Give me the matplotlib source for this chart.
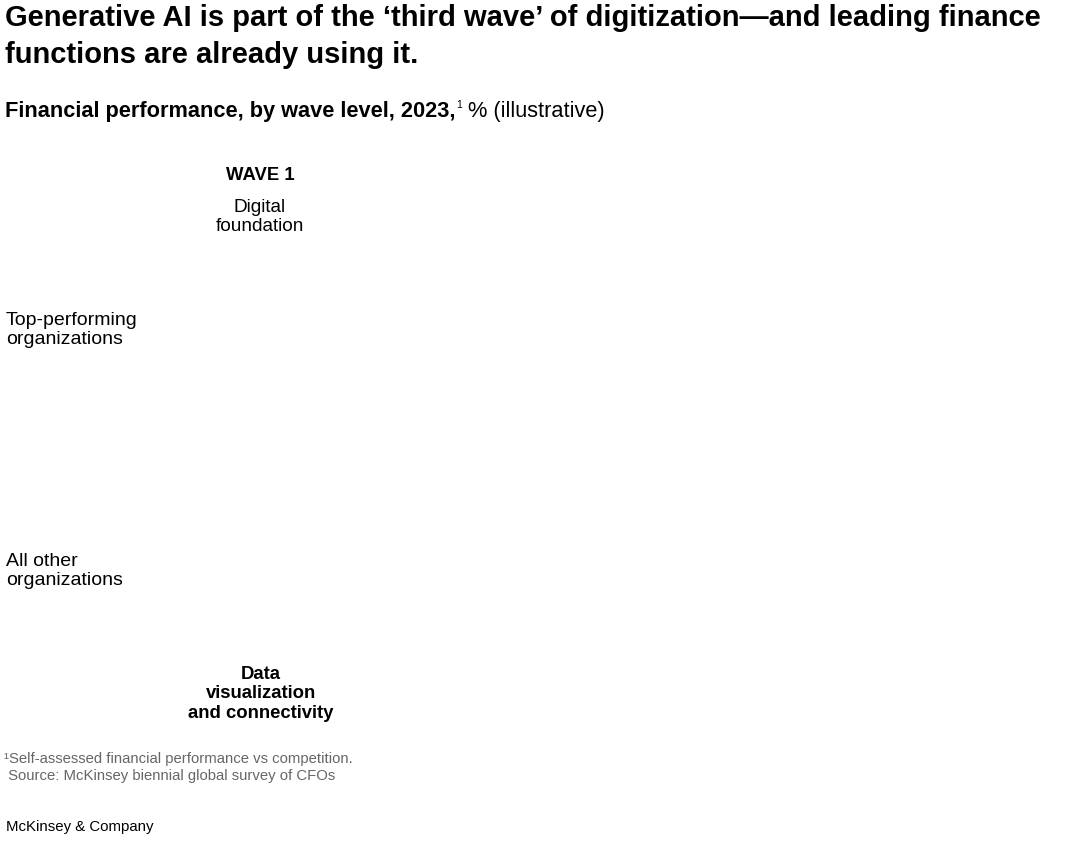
import matplotlib
matplotlib.use("Agg")
import matplotlib.pyplot as plt

# chart content (the marks themselves are not drawn in the reference, only labels)
title_lines = ["Generative AI is part of the \u2018third wave\u2019 of digitization\u2014and leading finance",
               "functions are already using it."]
subtitle_bold = "Financial performance, by wave level, 2023,"
subtitle_note = "1"
subtitle_rest = " % (illustrative)"
wave_names = ["WAVE 1"]
wave_desc = ["Digital\nfoundation"]
wave_bottom = ["Data\nvisualization\nand connectivity"]
row_labels = ["Top-performing\norganizations", "All other\norganizations"]
footnotes = ["\u00b9Self-assessed financial performance vs competition.",
             " Source: McKinsey biennial global survey of CFOs"]
brand = "McKinsey & Company"

W, H = 1080, 841
plt.rcParams['font.family'] = ['Liberation Sans', 'DejaVu Sans']

fig = plt.figure(figsize=(W / 100, H / 100), dpi=100)
fig.patch.set_facecolor("white")


def px(x, y):
    return x / W, 1 - y / H


# title
for i, line in enumerate(title_lines):
    fig.text(*px(5, 18 + i * 37), line, fontsize=21, fontweight="bold",
             ha="left", va="center", color="#000000")

# subtitle: bold part, superscript, regular part
renderer = fig.canvas.get_renderer()
t1 = fig.text(*px(5, 111), subtitle_bold, fontsize=15.7, fontweight="bold",
              ha="left", va="center")
x_end = t1.get_window_extent(renderer).x1
t2 = fig.text(x_end / W + 0.001, 1 - 105 / H, subtitle_note, fontsize=7.5,
              ha="left", va="center")
x_end = t2.get_window_extent(renderer).x1
fig.text(x_end / W, 1 - 111 / H, subtitle_rest, fontsize=15.7,
         ha="left", va="center")

# chart area (empty grid of waves vs organizations)
ax = fig.add_axes([0, 0.12, 1, 0.72])
ax.set_xlim(0, W)
ax.set_ylim(0, 1)
ax.axis("off")

col_x = [260]
for i, name in enumerate(wave_names):
    fig.text(*px(col_x[i], 176), name, fontsize=13.3, fontweight="bold",
             ha="center", va="center")
    fig.text(*px(col_x[i], 217), wave_desc[i], fontsize=13.7,
             ha="center", va="center", linespacing=1.2)
    fig.text(*px(col_x[i] + 1, 694), wave_bottom[i], fontsize=13.3, fontweight="bold",
             ha="center", va="center", linespacing=1.2)

row_y = [330, 571]
for label, y in zip(row_labels, row_y):
    fig.text(*px(6, y), label, fontsize=14, ha="left", va="center",
             linespacing=1.2)

for i, line in enumerate(footnotes):
    fig.text(*px(4, 759 + i * 17), line, fontsize=10.7, color="#666666",
             ha="left", va="center")

fig.text(*px(6, 827), brand, fontsize=10.8, ha="left", va="center", color="#000000")

fig.savefig("out.png", dpi=100, facecolor="white")
